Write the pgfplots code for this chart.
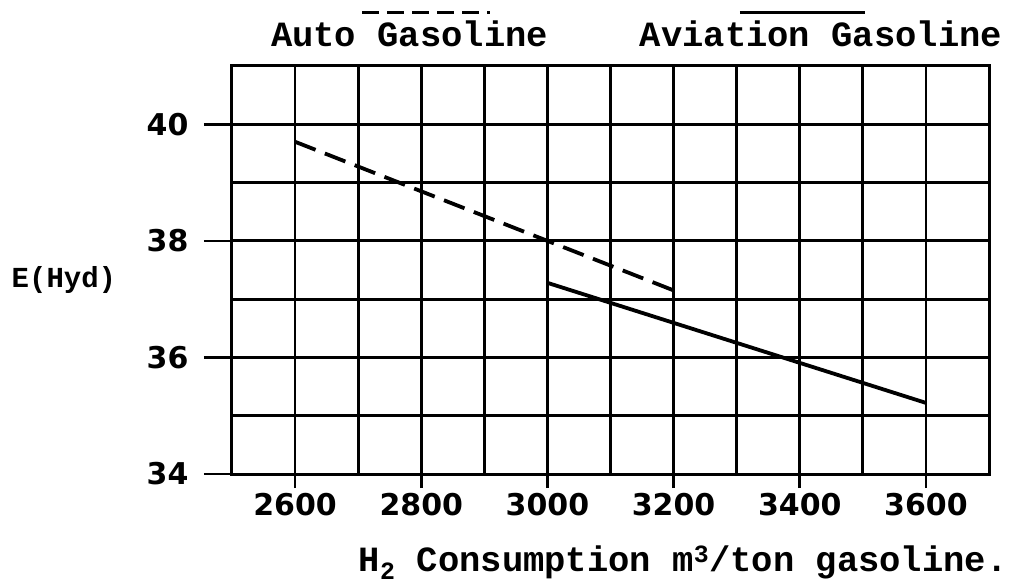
\documentclass[border=0pt]{standalone}
\usepackage{pgfplots}
\pgfplotsset{compat=1.18}
\usepackage{fontspec}
\setmainfont{Liberation Mono}
\newfontfamily\numfont{DejaVu Sans}
\begin{document}
\begin{tikzpicture}[x=1pt,y=1pt]
\useasboundingbox[fill=white] (0,0) rectangle (1031,584);
\begin{axis}[
  at={(232pt,110pt)}, anchor=south west,
  scale only axis, width=757pt, height=408pt,
  xmin=2500, xmax=3700, ymin=34, ymax=41,
  xtick={2600,2800,3000,3200,3400,3600},
  xticklabels={2600,2800,3000,3200,3400,3600},
  minor xtick={2500,2700,2900,3100,3300,3500,3700},
  ytick={34,36,38,40},
  yticklabels={34,36,38,40},
  minor ytick={35,37,39,41},
  xtick pos=bottom, ytick pos=left,
  grid=both,
  grid style={black, line width=2.8pt},
  minor grid style={black, line width=2.8pt},
  axis line style={black, line width=3pt},
  tick align=outside,
  xtick style={black, line width=2.6pt},
  ytick style={black, line width=2.6pt},
  major tick length=14pt,
  minor tick length=0pt,
  xticklabel style={font=\numfont\bfseries\fontsize{30}{32}\selectfont, yshift=-2pt},
  yticklabel style={font=\numfont\bfseries\fontsize{30}{32}\selectfont, xshift=-26pt},
  clip=false,
]
\addplot[black, line width=3.8pt, dash pattern=on 22pt off 10pt] coordinates {(2600,39.7) (3200,37.15)};
\addplot[black, line width=3.8pt] coordinates {(3000,37.28) (3600,35.22)};
% longer y ticks
\draw[black, line width=2.6pt] ([xshift=-28pt]axis cs:2500,40) -- (axis cs:2500,40);
\draw[black, line width=2.6pt] ([xshift=-28pt]axis cs:2500,38) -- (axis cs:2500,38);
\draw[black, line width=2.6pt] ([xshift=-28pt]axis cs:2500,36) -- (axis cs:2500,36);
\draw[black, line width=2.6pt] ([xshift=-28pt]axis cs:2500,34) -- (axis cs:2500,34);
% legend
\draw[black, line width=3.2pt, dash pattern=on 17pt off 8pt] (axis description cs:0.172,1.132) -- (axis description cs:0.341,1.132);
\draw[black, line width=3.2pt] (axis description cs:0.671,1.132) -- (axis description cs:0.836,1.132);
\node[font=\bfseries\fontsize{35.5}{36}\selectfont, inner sep=0pt] at (axis description cs:0.2345,1.078) {Auto Gasoline};
\node[font=\bfseries\fontsize{35.5}{36}\selectfont, inner sep=0pt] at (axis description cs:0.778,1.078) {Aviation Gasoline};
\node[font=\bfseries\fontsize{35.5}{36}\selectfont, inner sep=0pt] at (axis description cs:0.596,-0.218) {H\textsubscript{2} Consumption m\textsuperscript{3}/ton gasoline.};
\node[font=\bfseries\fontsize{29}{30}\selectfont, inner sep=0pt] at (axis description cs:-0.222,0.475) {E(Hyd)};
\end{axis}
\end{tikzpicture}
\end{document}
